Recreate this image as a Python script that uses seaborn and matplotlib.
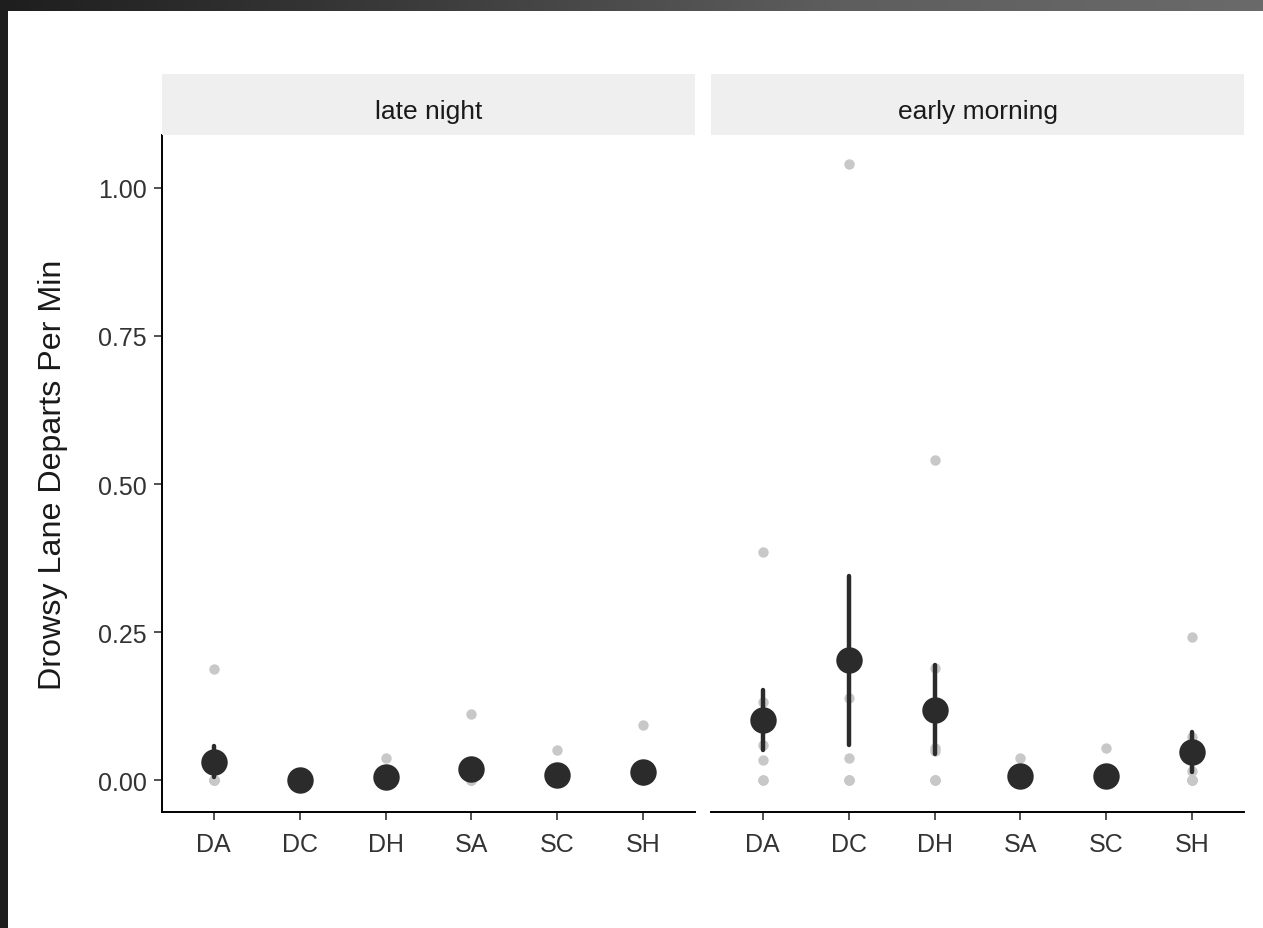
import matplotlib
matplotlib.use("Agg")
import matplotlib.pyplot as plt
import seaborn as sns
import pandas as pd
import numpy as np
from matplotlib.patches import Rectangle
from matplotlib.colors import LinearSegmentedColormap

# ---------------- data (per-participant values) ----------------
conditions = ["DA", "DC", "DH", "SA", "SC", "SH"]
panels = ["late night", "early morning"]

late_night_DA = [0.188, 0.029, 0.0, 0.0, 0.0, 0.0, 0.0]
late_night_DC = [0.0, 0.0, 0.0, 0.0, 0.0, 0.0, 0.0]
late_night_DH = [0.037, 0.0, 0.0, 0.0, 0.0, 0.0, 0.0]
late_night_SA = [0.111, 0.020, 0.0, 0.0, 0.0, 0.0, 0.0]
late_night_SC = [0.051, 0.010, 0.0, 0.0, 0.0, 0.0, 0.0]
late_night_SH = [0.093, 0.0, 0.0, 0.0, 0.0, 0.0, 0.0]

early_morning_DA = [0.385, 0.131, 0.105, 0.059, 0.034, 0.0, 0.0]
early_morning_DC = [1.040, 0.200, 0.138, 0.037, 0.0, 0.0, 0.0]
early_morning_DH = [0.541, 0.190, 0.0535, 0.0485, 0.0, 0.0, 0.0]
early_morning_SA = [0.037, 0.013, 0.0, 0.0, 0.0, 0.0, 0.0]
early_morning_SC = [0.0535, 0.0, 0.0, 0.0, 0.0, 0.0, 0.0]
early_morning_SH = [0.2415, 0.072, 0.0155, 0.0, 0.0, 0.0, 0.0]

y_ticks = [0.00, 0.25, 0.50, 0.75, 1.00]
y_tick_labels = ["0.00", "0.25", "0.50", "0.75", "1.00"]
y_label = "Drowsy Lane Departs Per Min"

panel_data = {
    "late night": [late_night_DA, late_night_DC, late_night_DH,
                   late_night_SA, late_night_SC, late_night_SH],
    "early morning": [early_morning_DA, early_morning_DC, early_morning_DH,
                      early_morning_SA, early_morning_SC, early_morning_SH],
}

rows = []
for p in panels:
    for c, vals in zip(conditions, panel_data[p]):
        for v in vals:
            rows.append({"panel": p, "condition": c, "value": v})
df = pd.DataFrame(rows)

# ---------------- styling ----------------
sns.set_theme(style="white")
plt.rcParams["font.family"] = ["Liberation Sans", "DejaVu Sans"]

W, H = 1263, 929
fig = plt.figure(figsize=(W / 100, H / 100), dpi=100)
fig.patch.set_facecolor("#1E1E1E")

# screenshot frame: dark gradient band on top, white slide area
band = fig.add_axes([0, 1 - 12 / H, 1, 12 / H], zorder=-20)
band.imshow(np.linspace(0, 1, 256)[None, :], aspect="auto",
            cmap=LinearSegmentedColormap.from_list("band", ["#1E1E1E", "#3C3C3C", "#5E5E5E", "#6A6A6A"]),
            extent=[0, 1, 0, 1])
band.axis("off")
fig.patches.append(Rectangle((8 / W, 0), 1 - 8 / W, 1 - 12 / H, transform=fig.transFigure,
                             facecolor="white", edgecolor="none", zorder=-10))

ax_bottom_px, ax_top_px = 813, 136
strip_top_px = 75
panel_x = [(162, 695), (711, 1244)]

gray = "#C8C8C8"
dark = "#2B2B2B"
tick_col = "#333333"

for i, p in enumerate(panels):
    x0, x1 = panel_x[i]
    ax = fig.add_axes([x0 / W, (H - ax_bottom_px) / H, (x1 - x0) / W,
                       (ax_bottom_px - ax_top_px) / H])
    sub = df[df["panel"] == p]
    sns.stripplot(data=sub, x="condition", y="value", order=conditions, jitter=False,
                  color=gray, size=7.5, linewidth=0, ax=ax, zorder=2)
    sns.pointplot(data=sub, x="condition", y="value", order=conditions, errorbar="se",
                  linestyle="none", color=dark, markers="o", markersize=17,
                  err_kws={"linewidth": 3.2}, ax=ax, zorder=3)
    ax.set_xlim(-0.6, 5.6)
    ax.set_ylim(-0.054, 1.0895)
    ax.set_facecolor("none")
    ax.set_xlabel("")
    ax.set_ylabel("")
    for s in ["top", "right"]:
        ax.spines[s].set_visible(False)
    ax.spines["bottom"].set_color("black")
    ax.spines["bottom"].set_linewidth(1.4)
    ax.tick_params(axis="x", length=5.5, width=1.2, color=tick_col, labelsize=18,
                   labelcolor=tick_col, pad=9, bottom=True)
    if i == 0:
        ax.spines["left"].set_color("black")
        ax.spines["left"].set_linewidth(1.4)
        ax.set_yticks(y_ticks)
        ax.set_yticklabels(y_tick_labels)
        ax.tick_params(axis="y", length=5.5, width=1.2, color=tick_col, labelsize=18,
                       labelcolor=tick_col, pad=5.5, left=True)
    else:
        ax.spines["left"].set_visible(False)
        ax.set_yticks(y_ticks)
        ax.tick_params(axis="y", left=False, labelleft=False)

    # facet strip
    sax = fig.add_axes([x0 / W, (H - ax_top_px) / H, (x1 - x0) / W,
                        (ax_top_px - strip_top_px) / H])
    sax.set_facecolor("#EFEFEF")
    sax.set_xticks([])
    sax.set_yticks([])
    for s in sax.spines.values():
        s.set_visible(False)
    sax.text(0.5, 0.40, p, ha="center", va="center", fontsize=19, color="#1A1A1A",
             transform=sax.transAxes)

fig.text(53 / W, (H - 475) / H, y_label, rotation=90, ha="center", va="center",
         fontsize=23.2, color="#1A1A1A")

fig.savefig("out.png", dpi=100, facecolor=fig.get_facecolor())
